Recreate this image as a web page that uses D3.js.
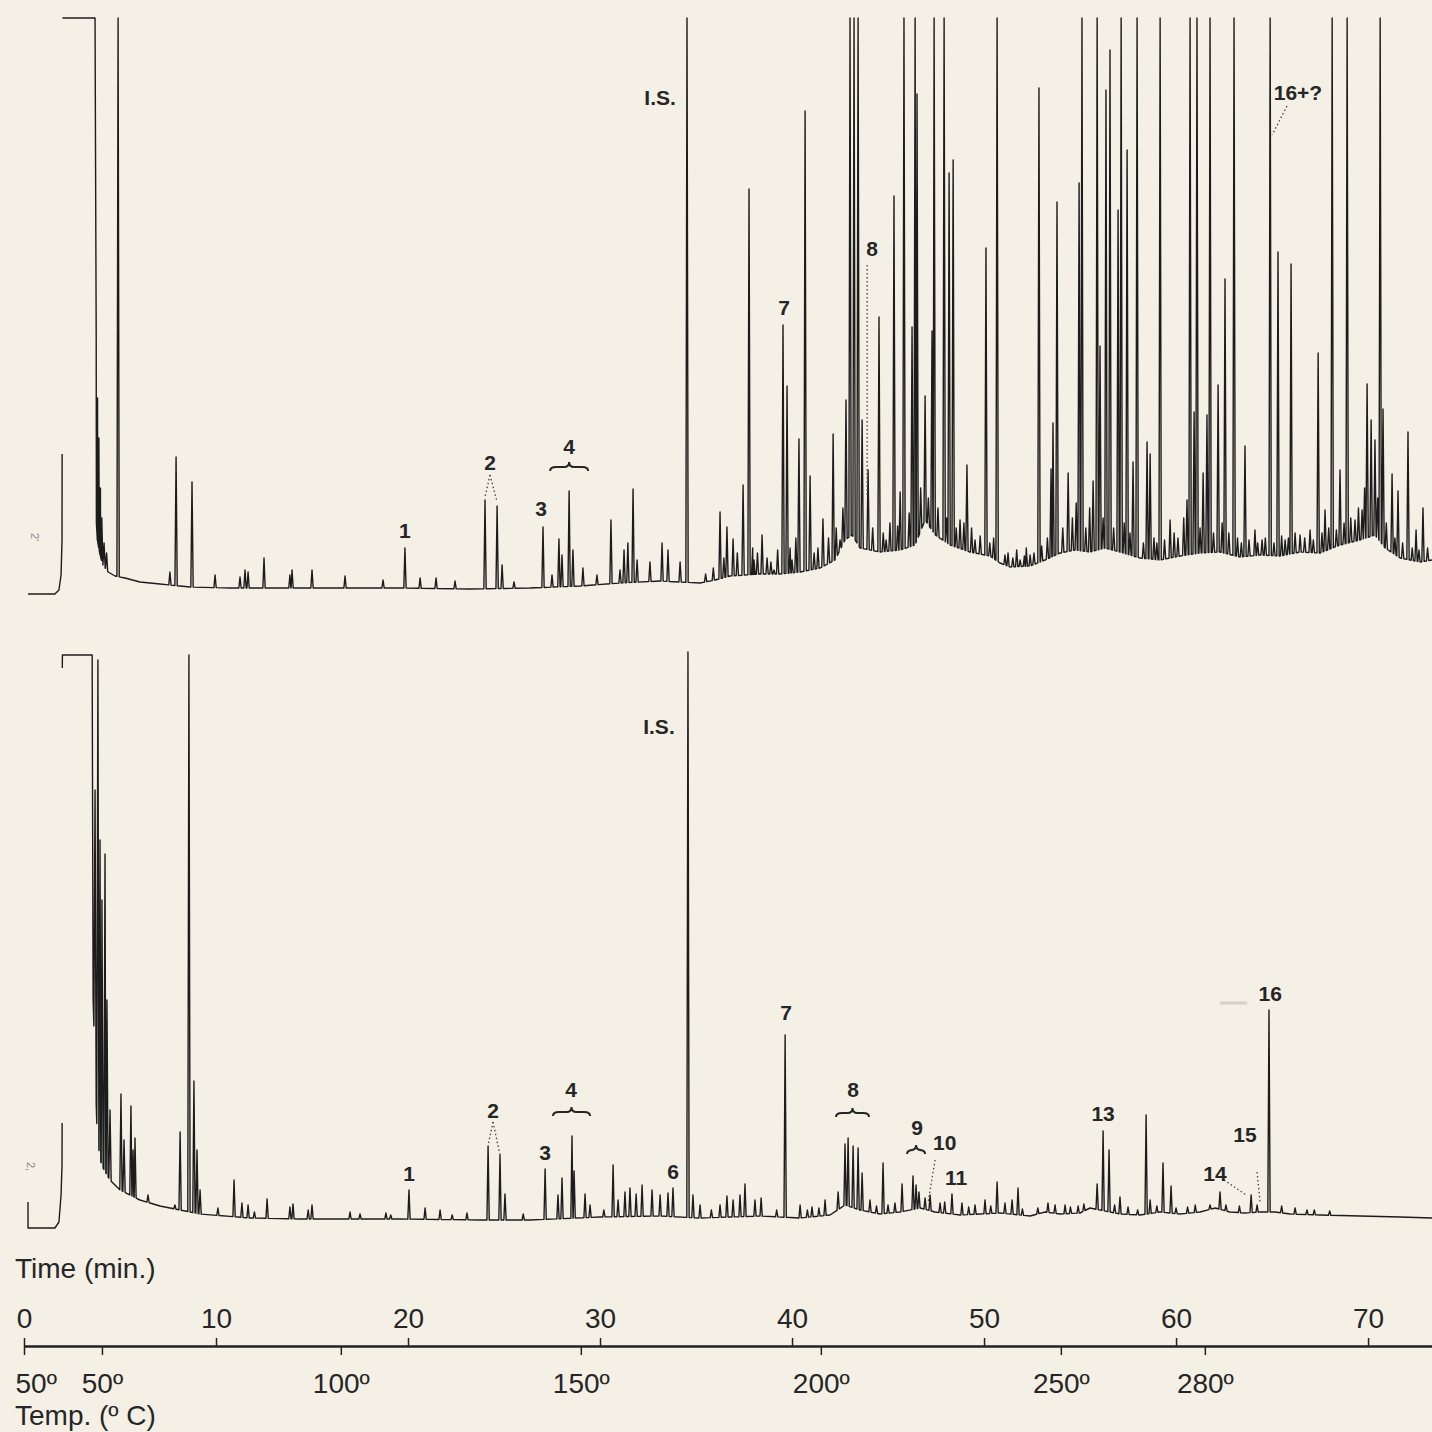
<!DOCTYPE html>
<html>
<head>
<meta charset="utf-8">
<script src="https://cdn.jsdelivr.net/npm/d3@7"></script>
<style>
  body { margin: 0; background: #f5f0e6; }
  svg { display: block; }
  .trace { fill: none; stroke: #1c1c1c; stroke-width: 1.4; stroke-linejoin: round; }
  .peak-label { font-family: "Liberation Sans", Arial, sans-serif; font-weight: bold; font-size: 21px; fill: #262626; }
  .axis-title, .axis text { font-family: "Liberation Sans", Arial, sans-serif; font-size: 28px; fill: #262626; }
  .leader { fill: none; stroke: #444; stroke-width: 1.3; stroke-dasharray: 1.5 2.5; }
  .brace { fill: none; stroke: #262626; stroke-width: 2; }
</style>
</head>
<body>
<div id="main"></div>
<script>
// Time axis (min) and oven temperature ticks
const timeTicks = [0, 10, 20, 30, 40, 50, 60, 70];
const tempTickTimes = [0, 4.06, 16.5, 29, 41.5, 54, 61.5];
const tempTickLabels = ["50º", "50º", "100º", "150º", "200º", "250º", "280º"];

// Upper chromatogram: baseline [min, response], null = pen lift
const topBaseline = [
  [0.21, 4], [1.61, 4], [1.82, 8], [1.93, 23], [1.98, 58], [1.985, 144], [1.99, null],
  [2.0, 580], [3.70, 580], [3.71, 300], [3.74, 90], [3.80, 60], [3.96, 43], [4.11, 33],
  [4.38, 26], [4.74, 22], [5.26, 20], [6.04, 16], [7.08, 14], [8.65, 11], [10.73, 10],
  [14.38, 10], [19.58, 10], [23.23, 9], [26.35, 10], [28.96, 12], [31.04, 15], [33.13, 17],
  [35.21, 15], [36.0, 18], [36.77, 22], [38.33, 24], [39.38, 24], [40.42, 26], [41.46, 30],
  [42.24, 38], [42.76, 58], [43.13, 63], [43.54, 50], [44.58, 46], [45.63, 48], [46.41, 53],
  [46.93, 78], [47.46, 63], [48.23, 53], [49.27, 46], [50.31, 42], [50.83, 35], [51.35, 31],
  [52.40, 32], [53.18, 38], [53.96, 45], [54.74, 48], [55.52, 46], [56.30, 50], [57.08, 46],
  [58.13, 40], [59.17, 38], [60.21, 42], [61.25, 45], [62.29, 46], [63.33, 41], [64.38, 43],
  [65.42, 42], [66.46, 46], [67.50, 45], [68.54, 53], [69.58, 58], [70.36, 63], [70.89, 50],
  [71.67, 40], [72.71, 36], [73.33, 38]
];

// Upper chromatogram: peak apex [min, response] (580 = full scale)
const topPeaks = [
  [3.76, 263], [3.83, 200], [3.90, 160], [3.98, 110], [4.05, 80], [4.17, 55], [4.30, 45],
  [4.90, 580], [7.60, 26], [7.92, 141], [8.75, 116], [9.95, 23], [11.25, 21], [11.51, 28],
  [11.67, 26], [12.50, 40], [13.85, 23], [13.96, 28], [15.0, 28], [16.72, 22], [18.70, 18],
  [19.84, 50], [20.63, 20], [21.46, 20], [22.45, 17],
  [24.01, 98], [24.64, 92], [24.90, 33], [25.52, 16],
  [27.03, 71], [27.50, 23], [27.86, 59], [28.02, 43], [28.39, 107], [28.59, 48], [29.11, 30],
  [29.84, 23], [30.57, 78], [31.04, 28], [31.25, 48], [31.45, 55], [31.72, 109], [31.93, 38],
  [32.60, 36], [33.23, 55], [33.54, 48], [34.17, 36],
  [34.53, 580],
  [35.5, 24], [35.9, 30], [36.25, 86], [36.45, 40], [36.61, 71], [36.93, 59], [37.15, 45],
  [37.45, 113], [37.76, 409], [37.95, 50], [38.02, 38], [38.2, 45], [38.44, 63], [38.7, 40],
  [38.9, 36], [39.06, 28], [39.25, 48], [39.53, 273], [39.74, 212], [39.9, 50], [40.0, 38],
  [40.2, 60], [40.36, 159], [40.68, 487], [40.94, 122], [41.15, 45], [41.35, 50], [41.61, 79],
  [41.9, 60], [42.14, 164], [42.3, 70], [42.50, 58], [42.65, 90], [42.81, 198],
  [43.02, 580], [43.23, 580], [43.44, 580],
  [43.65, 178], [43.96, 128], [44.2, 70], [44.53, 281], [44.75, 65], [44.90, 58], [45.1, 75],
  [45.31, 402], [45.5, 72], [45.63, 106], [45.83, 580], [46.1, 85], [46.25, 271], [46.41, 580],
  [46.51, 504], [46.7, 110], [46.93, 202], [47.1, 100], [47.29, 267], [47.40, 580], [47.6, 90],
  [47.92, 580], [48.05, 80], [48.18, 425], [48.39, 438], [48.55, 70], [48.75, 78], [48.95, 75],
  [49.11, 133], [49.35, 70], [49.53, 58], [49.8, 62], [50.10, 350], [50.3, 55], [50.5, 60],
  [50.68, 580],
  [51.09, 43], [51.25, 45], [51.5, 40], [51.7, 48], [51.88, 38], [52.1, 42], [52.2, 50],
  [52.40, 43], [52.6, 45], [52.86, 510], [53.0, 52], [53.3, 60], [53.49, 129], [53.59, 175],
  [53.80, 396], [54.1, 70], [54.38, 125], [54.6, 80], [54.8, 95], [54.95, 415], [55.10, 580],
  [55.3, 70], [55.5, 90], [55.68, 117], [55.89, 580], [56.04, 252], [56.2, 80], [56.35, 508],
  [56.56, 548], [56.75, 70], [56.98, 388], [57.14, 580], [57.3, 75], [57.45, 448], [57.6, 65],
  [57.76, 136], [57.97, 580], [58.3, 55], [58.49, 156], [58.65, 144], [58.85, 60], [59.0, 55],
  [59.17, 580], [59.4, 58], [59.69, 78], [59.9, 65], [60.1, 60], [60.4, 80], [60.57, 98],
  [60.73, 580], [60.94, 186], [61.09, 580], [61.25, 70], [61.41, 125], [61.61, 183], [61.77, 580],
  [61.95, 65], [62.19, 213], [62.4, 75], [62.55, 319], [62.75, 65], [63.02, 580], [63.2, 60],
  [63.4, 55], [63.59, 152], [63.8, 58], [64.11, 68], [64.25, 55], [64.48, 58], [64.65, 60],
  [64.90, 580], [65.1, 55], [65.31, 346], [65.5, 62], [65.68, 58], [65.85, 60], [65.99, 334],
  [66.2, 65], [66.46, 63], [66.7, 60], [66.98, 68], [67.15, 58], [67.40, 245], [67.6, 65],
  [67.76, 88], [67.95, 70], [68.13, 580], [68.35, 68], [68.54, 128], [68.75, 75], [68.91, 580],
  [69.1, 80], [69.32, 78], [69.5, 90], [69.69, 88], [69.82, 110], [69.95, 214], [70.16, 178],
  [70.36, 158], [70.5, 100], [70.63, 580], [70.78, 189], [70.95, 75], [71.25, 124], [71.4, 60],
  [71.56, 107], [71.8, 55], [72.08, 166], [72.3, 50], [72.50, 68], [72.65, 48], [72.86, 90],
  [73.1, 50]
];

// Lower chromatogram: baseline [min, response], null = pen lift
const bottomBaseline = [
  [0.21, 30], [0.21, 4], [1.61, 4], [1.82, 10], [1.93, 37], [1.98, 67], [1.985, 109], [1.99, null],
  [1.995, 564], [2.0, 577], [3.55, 577], [3.60, 232], [3.80, 102], [3.96, 72], [4.17, 62],
  [4.48, 52], [5.0, 42], [6.04, 32], [7.08, 26], [8.13, 22], [9.17, 18], [11.77, 14], [14.38, 13],
  [19.58, 13], [23.75, 12], [26.35, 12], [30.0, 15], [33.13, 16], [35.21, 14], [38.33, 16],
  [40.42, 14], [41.98, 17], [42.76, 27], [43.54, 22], [44.58, 18], [45.63, 20], [46.67, 24],
  [47.45, 20], [48.75, 17], [50.83, 19], [52.40, 16], [53.18, 20], [53.96, 18], [55.0, 19],
  [55.52, 24], [56.04, 22], [57.08, 18], [58.13, 17], [59.17, 20], [60.21, 18], [61.25, 20],
  [62.04, 24], [62.81, 20], [63.59, 19], [64.38, 20], [65.16, 20], [65.94, 18], [67.50, 17],
  [69.58, 16], [71.67, 15], [73.33, 14]
];

// Lower chromatogram: peak apex [min, response]
const bottomPeaks = [
  [3.70, 442], [3.85, 572], [3.96, 392], [4.06, 332], [4.22, 378], [4.32, 232], [4.48, 122],
  [5.05, 138], [5.21, 92], [5.57, 126], [5.68, 82], [5.78, 94], [6.46, 37], [7.86, 27], [8.13, 100],
  [8.59, 577], [8.85, 151], [9.01, 82], [9.17, 42], [10.10, 24], [10.94, 52], [11.35, 29],
  [11.67, 27], [12.0, 20], [12.66, 33], [13.85, 25], [14.01, 28], [14.8, 22], [15.0, 27],
  [16.98, 20], [17.5, 18], [18.85, 19], [19.1, 17],
  [20.05, 42], [20.89, 24], [21.67, 22], [22.3, 17], [23.07, 19],
  [24.17, 86], [24.79, 77], [25.05, 38], [26.0, 18],
  [27.14, 63], [27.81, 37], [28.02, 54], [28.54, 96], [28.65, 61], [29.22, 38], [29.48, 27],
  [30.2, 22], [30.68, 67], [30.94, 32], [31.30, 40], [31.56, 44], [31.88, 38], [32.19, 47],
  [32.71, 42], [33.13, 37], [33.54, 39], [33.80, 44],
  [34.58, 580],
  [34.84, 37], [35.21, 27], [35.8, 22], [36.25, 27], [36.61, 36], [36.93, 32], [37.29, 37],
  [37.55, 48], [38.07, 32], [38.39, 34], [39.2, 22], [39.64, 197], [40.42, 27], [40.8, 22],
  [41.04, 25], [41.4, 24], [41.72, 32],
  [42.40, 40], [42.76, 88], [42.92, 94], [43.18, 86], [43.44, 84], [43.65, 59],
  [44.06, 32], [44.4, 26], [44.74, 69], [45.0, 27], [45.36, 29], [45.73, 48], [46.30, 56],
  [46.46, 47], [46.61, 40], [46.93, 34], [47.19, 37], [47.71, 29], [47.95, 30], [48.33, 38],
  [48.85, 29], [49.2, 25], [49.53, 27], [50.05, 32], [50.35, 26], [50.68, 50], [51.09, 29],
  [51.46, 32], [51.77, 44], [52.0, 23], [52.8, 24], [53.33, 29], [53.70, 27], [54.22, 27],
  [54.5, 25], [54.90, 26], [55.2, 28], [55.89, 48], [56.20, 101], [56.51, 82], [56.8, 27],
  [57.08, 35], [57.5, 25], [58.0, 22], [58.44, 117], [58.65, 32], [59.0, 26], [59.32, 69],
  [59.74, 46], [60.0, 24], [60.6, 25], [61.0, 27], [61.77, 27], [62.29, 40], [62.6, 27],
  [63.3, 26], [63.91, 37], [64.22, 27], [64.84, 222], [65.5, 26], [66.2, 24], [66.82, 22],
  [67.2, 22], [68.0, 21]
];

// Peak annotations [min, response, text]
const topLabels = [
  [19.84, 68, "1"], [24.27, 136, "2"], [26.93, 90, "3"], [28.39, 152, "4"],
  [33.13, 501, "I.S."], [39.58, 291, "7"], [44.17, 350, "8"], [66.35, 506, "16+?"]
];
const bottomLabels = [
  [20.05, 59, "1"], [24.43, 122, "2"], [27.14, 80, "3"], [28.49, 143, "4"], [33.80, 61, "6"],
  [33.07, 506, "I.S."], [39.69, 220, "7"], [43.18, 143, "8"], [46.51, 105, "9"],
  [47.95, 90, "10"], [48.55, 55, "11"], [56.20, 119, "13"], [62.03, 59, "14"],
  [63.59, 98, "15"], [64.90, 239, "16"]
];

// Braces [from min, to min, response]
const topBraces = [[27.40, 29.38, 131]];
const bottomBraces = [[27.55, 29.48, 120], [42.29, 44.01, 119], [45.99, 46.93, 82]];

// Dotted leaders [min1, resp1, min2, resp2]
const topLeaders = [
  [24.27, 123, 24.01, 101], [24.27, 123, 24.64, 96], [43.91, 333, 43.91, 101], [65.78, 492, 65.0, 463]
];
const bottomLeaders = [
  [24.43, 110, 24.17, 87], [24.43, 110, 24.79, 77], [47.45, 72, 47.08, 29],
  [62.5, 52, 63.65, 37], [64.22, 60, 64.38, 29]
];

// Layout
const width = 1432;
const height = 1432;
const peakHalfWidth = 0.06;

const svg = d3.select("#main").append("svg")
  .attr("width", width)
  .attr("height", height);

const x = d3.scaleLinear().domain([0, 73.33]).range([24, 1432]);
const yTop = d3.scaleLinear().domain([0, 580]).range([598, 18]);
const yBottom = d3.scaleLinear().domain([0, 580]).range([1232, 652]);

// Merge baseline and peak triangles into one pen trace
function buildTrace(baseline, peaks) {
  const known = baseline.filter((d) => d[1] != null);
  const bis = d3.bisector((d) => d[0]).right;
  const baseAt = (t) => {
    const i = bis(known, t);
    const a = known[Math.max(0, i - 1)];
    const b = known[Math.min(known.length - 1, i)];
    if (a === b || b[0] === a[0]) return a[1];
    return a[1] + ((b[1] - a[1]) * (t - a[0])) / (b[0] - a[0]);
  };
  const pts = baseline
    .filter((d) => d[1] == null || !peaks.some((p) => Math.abs(p[0] - d[0]) < peakHalfWidth))
    .map((d) => ({ t: d[0], r: d[1] }));
  peaks.forEach(([t, r]) => {
    pts.push({ t: t - peakHalfWidth, r: baseAt(t - peakHalfWidth) });
    pts.push({ t: t, r: r });
    pts.push({ t: t + peakHalfWidth, r: baseAt(t + peakHalfWidth) });
  });
  return pts.sort((a, b) => a.t - b.t);
}

function brace(x1, x2, y) {
  const xm = (x1 + x2) / 2;
  const p = d3.path();
  p.moveTo(x1, y + 4);
  p.quadraticCurveTo(x1, y, x1 + 6, y);
  p.lineTo(xm - 5, y);
  p.quadraticCurveTo(xm, y, xm, y - 5);
  p.quadraticCurveTo(xm, y, xm + 5, y);
  p.lineTo(x2 - 6, y);
  p.quadraticCurveTo(x2, y, x2, y + 4);
  return p.toString();
}

function drawPanel(y, baseline, peaks, labels, braces, leaders) {
  const g = svg.append("g");
  const line = d3.line()
    .defined((d) => d.r != null)
    .x((d) => x(d.t))
    .y((d) => y(d.r));

  g.append("path")
    .attr("class", "trace")
    .attr("d", line(buildTrace(baseline, peaks)));

  g.selectAll(".leader")
    .data(leaders)
    .join("line")
    .attr("class", "leader")
    .attr("x1", (d) => x(d[0]))
    .attr("y1", (d) => y(d[1]))
    .attr("x2", (d) => x(d[2]))
    .attr("y2", (d) => y(d[3]));

  g.selectAll(".brace")
    .data(braces)
    .join("path")
    .attr("class", "brace")
    .attr("d", (d) => brace(x(d[0]), x(d[1]), y(d[2])));

  g.selectAll(".peak-label")
    .data(labels)
    .join("text")
    .attr("class", "peak-label")
    .attr("x", (d) => x(d[0]))
    .attr("y", (d) => y(d[1]))
    .attr("text-anchor", "middle")
    .attr("dominant-baseline", "central")
    .text((d) => d[2]);
  return g;
}

drawPanel(yTop, topBaseline, topPeaks, topLabels, topBraces, topLeaders);
const bottomG = drawPanel(yBottom, bottomBaseline, bottomPeaks, bottomLabels, bottomBraces, bottomLeaders);

// smudge beside peak 16
bottomG.append("line")
  .attr("x1", x(62.29)).attr("x2", x(63.7))
  .attr("y1", yBottom(229)).attr("y2", yBottom(229))
  .attr("stroke", "#999").attr("stroke-width", 3).attr("opacity", 0.35);

// attenuation marks
svg.append("text")
  .attr("transform", `translate(${x(0.35)},${yTop(65)}) rotate(90)`)
  .attr("font-family", "Liberation Sans, sans-serif")
  .attr("font-size", 11).attr("fill", "#888")
  .text("2'");
svg.append("text")
  .attr("transform", `translate(${x(0.15)},${yBottom(70)}) rotate(90)`)
  .attr("font-family", "Liberation Sans, sans-serif")
  .attr("font-size", 11).attr("fill", "#888")
  .text("2,");

// Time / temperature scale
const axisY = 1346;
const timeAxis = d3.axisTop(x)
  .tickValues(timeTicks)
  .tickSize(8)
  .tickSizeOuter(0)
  .tickPadding(10);
const tempAxis = d3.axisBottom(x)
  .tickValues(tempTickTimes)
  .tickFormat((d, i) => tempTickLabels[i])
  .tickSize(9)
  .tickSizeOuter(0)
  .tickPadding(18);

const tg = svg.append("g").attr("class", "axis").attr("transform", `translate(0,${axisY})`).call(timeAxis);
const bg = svg.append("g").attr("class", "axis").attr("transform", `translate(0,${axisY})`).call(tempAxis);

svg.selectAll(".axis .domain").attr("stroke", "#222").attr("stroke-width", 2);
svg.selectAll(".axis .tick line").attr("stroke", "#222").attr("stroke-width", 1.5);
svg.selectAll(".axis .tick text").attr("fill", "#262626");
bg.selectAll(".tick text").filter((d, i) => i === 0).attr("text-anchor", "start").attr("x", -9);

svg.append("text")
  .attr("class", "axis-title")
  .attr("x", 15)
  .attr("y", 1278)
  .text("Time (min.)");
svg.append("text")
  .attr("class", "axis-title")
  .attr("x", 15)
  .attr("y", 1425)
  .text("Temp. (º C)");
</script>
</body>
</html>
